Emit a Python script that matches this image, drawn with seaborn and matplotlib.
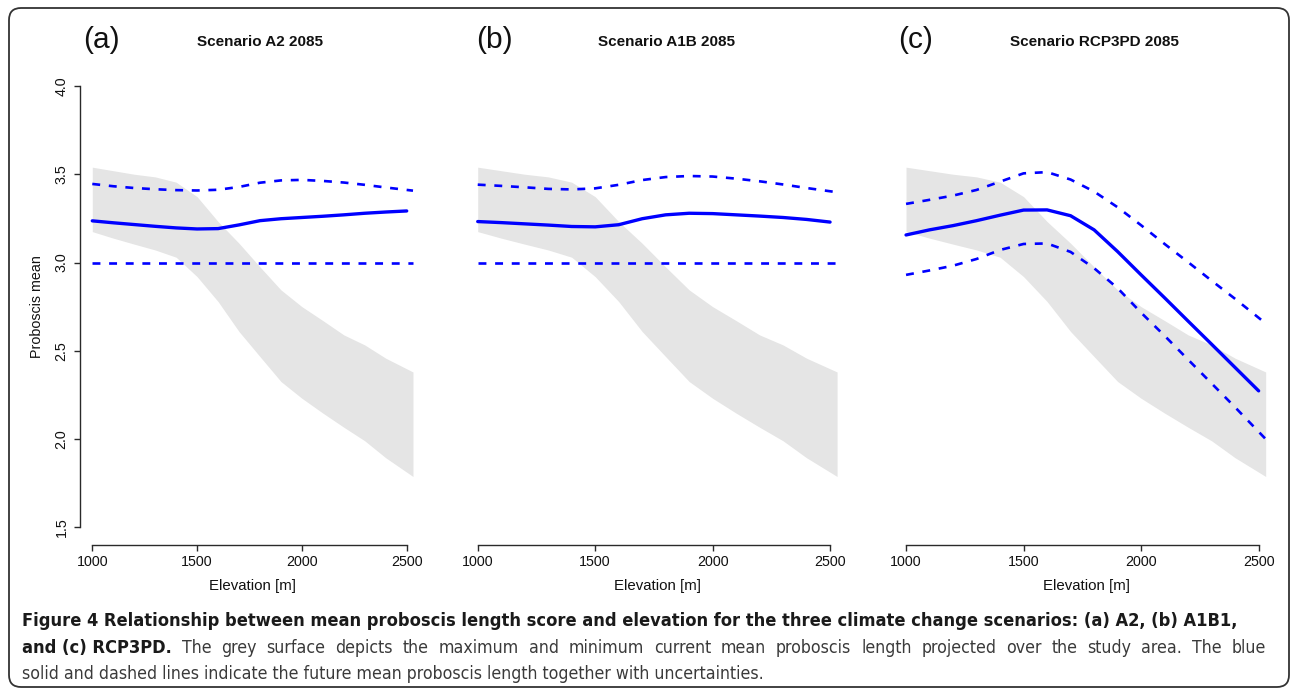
import matplotlib
matplotlib.use("Agg")
import matplotlib.pyplot as plt
from matplotlib import font_manager
from matplotlib.patches import FancyBboxPatch
from matplotlib.transforms import IdentityTransform
import pandas as pd
import seaborn as sns

# --- values ---
elev = [1000, 1100, 1200, 1300, 1400, 1500, 1600, 1700, 1800,
        1900, 2000, 2100, 2200, 2300, 2400, 2500]
elev_ext = [1000, 1100, 1200, 1300, 1400, 1500, 1600, 1700, 1800,
            1900, 2000, 2100, 2200, 2300, 2400, 2530]

# grey surface: max / min current mean proboscis length (same in every panel)
band_high = [3.54, 3.52, 3.50, 3.485, 3.455, 3.373, 3.232, 3.109, 2.975,
             2.845, 2.75, 2.671, 2.59, 2.533, 2.458, 2.38]
band_low = [3.175, 3.138, 3.104, 3.071, 3.03, 2.92, 2.779, 2.609, 2.467,
            2.326, 2.231, 2.147, 2.067, 1.99, 1.894, 1.788]

# (a) A2
a2_mean = [3.236, 3.225, 3.215, 3.205, 3.196, 3.19, 3.192, 3.213, 3.237,
           3.248, 3.255, 3.262, 3.27, 3.279, 3.286, 3.292]
a2_upper = [3.445, 3.432, 3.422, 3.415, 3.41, 3.408, 3.412, 3.428, 3.452,
            3.465, 3.468, 3.462, 3.453, 3.44, 3.425, 3.407]
a2_lower = [3.0] * 16

# (b) A1B
a1b_mean = [3.232, 3.226, 3.219, 3.212, 3.204, 3.202, 3.214, 3.248, 3.27,
            3.279, 3.277, 3.27, 3.263, 3.255, 3.244, 3.229]
a1b_upper = [3.441, 3.434, 3.426, 3.417, 3.414, 3.42, 3.44, 3.467, 3.484,
             3.49, 3.487, 3.475, 3.46, 3.442, 3.422, 3.398]
a1b_lower = [3.0] * 16

# (c) RCP3PD
rcp_mean = [3.156, 3.185, 3.209, 3.237, 3.268, 3.297, 3.298, 3.265, 3.185,
            3.062, 2.93, 2.80, 2.668, 2.537, 2.405, 2.273]
rcp_upper = [3.332, 3.355, 3.379, 3.411, 3.458, 3.505, 3.512, 3.47, 3.402,
             3.313, 3.211, 3.105, 3.002, 2.897, 2.794, 2.655]
rcp_lower = [2.93, 2.955, 2.982, 3.02, 3.071, 3.105, 3.108, 3.06, 2.968,
             2.855, 2.716, 2.585, 2.45, 2.315, 2.18, 2.0]

panel_tags = ["(a)", "(b)", "(c)"]
titles = ["Scenario A2 2085", "Scenario A1B 2085", "Scenario RCP3PD 2085"]
xticks = [1000, 1500, 2000, 2500]
yticks = [1.5, 2.0, 2.5, 3.0, 3.5, 4.0]

caption_bold1 = ("Figure 4 Relationship between mean proboscis length score and elevation "
                 "for the three climate change scenarios: (a) A2, (b) A1B1,")
caption_bold2 = "and (c) RCP3PD."
caption_reg2 = ("The grey surface depicts the maximum and minimum current mean proboscis "
                "length projected over the study area. The blue")
caption_reg3 = "solid and dashed lines indicate the future mean proboscis length together with uncertainties."

# --- style ---
sns.set_style("white")
plt.rcParams["font.family"] = ["Liberation Sans", "DejaVu Sans"]

W, H = 1290, 691
fig = plt.figure(figsize=(W / 100, H / 100), dpi=100)

BLUE = "#0000ff"
GREY = "#e5e5e5"
AXC = "#2a2a2a"

# axes boxes in pixels: left, right (top/bottom shared)
boxes = [(79.5, 426.2), (463.4, 851.9), (891.7, 1280.5)]
top_px, bot_px = 68.3, 545.0

series = [(a2_mean, a2_upper, a2_lower),
          (a1b_mean, a1b_upper, a1b_lower),
          (rcp_mean, rcp_upper, rcp_lower)]

tag_x = [101, 494.5, 916]
title_x = [260, 666, 1094]

for i, (l, r) in enumerate(boxes):
    ax = fig.add_axes([l / W, 1 - bot_px / H, (r - l) / W, (bot_px - top_px) / H])
    mean, upper, lower = series[i]

    ax.fill_between(elev_ext, band_low, band_high, color=GREY, lw=0, zorder=1)

    df_mean = pd.DataFrame({"Elevation": elev, "Proboscis": mean})
    df_up = pd.DataFrame({"Elevation": elev_ext, "Proboscis": upper})
    df_lo = pd.DataFrame({"Elevation": elev_ext, "Proboscis": lower})
    sns.lineplot(data=df_up, x="Elevation", y="Proboscis", ax=ax, color=BLUE,
                 lw=1.9, linestyle=(0, (3.0, 3.3)), zorder=3)
    sns.lineplot(data=df_lo, x="Elevation", y="Proboscis", ax=ax, color=BLUE,
                 lw=1.9, linestyle=(0, (3.0, 3.3)), zorder=3)
    sns.lineplot(data=df_mean, x="Elevation", y="Proboscis", ax=ax, color=BLUE,
                 lw=2.4, zorder=4)

    ax.set_xlim(939, 2593)
    ax.set_ylim(1.4, 4.1)
    ax.set_facecolor("none")
    for s in ["top", "right"]:
        ax.spines[s].set_visible(False)
    ax.spines["bottom"].set_bounds(1000, 2500)
    ax.spines["bottom"].set_color(AXC)
    ax.spines["bottom"].set_linewidth(1.0)
    ax.set_xticks(xticks)
    ax.set_xticklabels([str(t) for t in xticks])
    ax.tick_params(axis="x", bottom=True, direction="out", length=4.3, width=1.0,
                   color=AXC, pad=3, labelsize=10.3, labelcolor="#111111")
    ax.set_xlabel("Elevation [m]", fontsize=10.8, color="#111111", va="center")
    ax.xaxis.set_label_coords(0.5, -(585.7 - bot_px) / (bot_px - top_px))

    if i == 0:
        ax.spines["left"].set_bounds(1.5, 4.0)
        ax.spines["left"].set_color(AXC)
        ax.spines["left"].set_linewidth(1.0)
        ax.set_yticks(yticks)
        ax.set_yticklabels([f"{t:.1f}" for t in yticks])
        ax.tick_params(axis="y", left=True, direction="out", length=4.3, width=1.0,
                       color=AXC, pad=3.6, labelsize=10.3, labelcolor="#111111",
                       labelrotation=90)
        for lab in ax.get_yticklabels():
            lab.set_va("center")
        ax.set_ylabel("Proboscis mean", fontsize=10.3, color="#111111", va="center")
        ax.yaxis.set_label_coords((37 - l) / (r - l), 0.5)
    else:
        ax.spines["left"].set_visible(False)
        ax.set_yticks([])
        ax.set_ylabel("")

    fig.text(tag_x[i] / W, 1 - 40 / H, panel_tags[i], fontsize=21.5,
             ha="center", va="center", color="#111111")
    fig.text(title_x[i] / W, 1 - 41.7 / H, titles[i], fontsize=11,
             fontweight="bold", ha="center", va="center", color="#111111")

# --- caption ---
names = {f.name for f in font_manager.fontManager.ttflist}
if "Liberation Sans Narrow" in names:
    cap_family, cap_stretch = "Liberation Sans Narrow", "normal"
elif "DejaVu Sans Condensed" in names:
    cap_family, cap_stretch = "DejaVu Sans Condensed", "normal"
else:
    cap_family, cap_stretch = "DejaVu Sans", "condensed"

renderer = fig.canvas.get_renderer()


def cap_text(x0, y, s, weight, color, size=10):
    return fig.text(x0 / W, 1 - y / H, s, fontsize=size, fontweight=weight,
                    family=cap_family, fontstretch=cap_stretch,
                    ha="left", va="center", color=color)


def fit_size(t, target_w):
    w = t.get_window_extent(renderer).width
    t.set_fontsize(t.get_fontsize() * target_w / w)
    return t.get_fontsize()


# bold size from the first line, regular size from the last (unjustified) line
t1 = cap_text(22, 621, caption_bold1, "bold", "#1a1a1a")
bold_size = fit_size(t1, 1234 - 22)
t4 = cap_text(22, 674, caption_reg3, "normal", "#3a3a3a")
reg_size = fit_size(t4, 765 - 22)

# second line is justified: bold lead-in, then words spread to the right margin
t2 = cap_text(22, 648, caption_bold2, "bold", "#1a1a1a", bold_size)
word_w = []
word_txt = []
for wd in caption_reg2.split():
    t = cap_text(0, 648, wd, "normal", "#3a3a3a", reg_size)
    word_txt.append(t)
    word_w.append(t.get_window_extent(renderer).width)
start = 22 + t2.get_window_extent(renderer).width
right = 1266
gap = (right - start - sum(word_w)) / len(word_w)
x = start + gap
for t, w in zip(word_txt, word_w):
    t.set_x(x / W)
    x += w + gap

# rounded frame round the whole figure
frame = FancyBboxPatch((9, H - 687), 1280, 679,
                       boxstyle="round,pad=0,rounding_size=12",
                       transform=IdentityTransform(), fill=False,
                       edgecolor="#333333", lw=1.3)
fig.add_artist(frame)

fig.savefig("out.png", dpi=100)
